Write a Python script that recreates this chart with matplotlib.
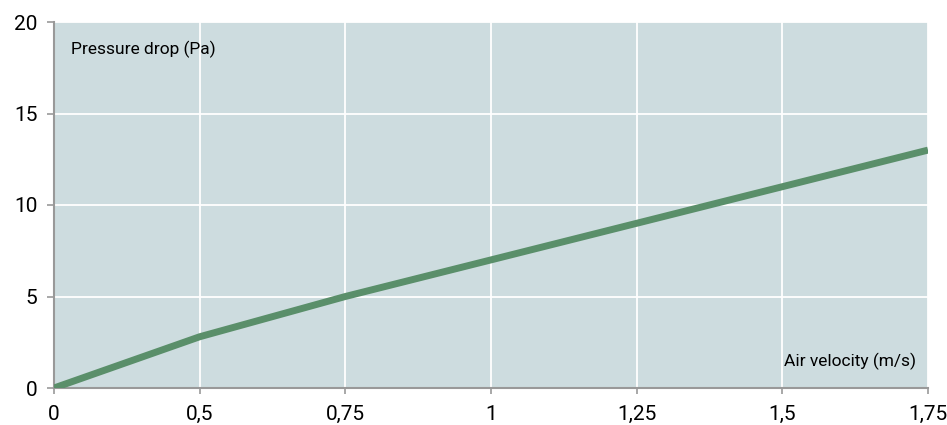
import matplotlib
matplotlib.use("Agg")
import matplotlib.pyplot as plt

plt.rcParams['font.family'] = ['Liberation Sans Narrow', 'Roboto', 'DejaVu Sans']

# data (x axis is categorical: 0.25 is not shown)
velocity_labels = ['0', '0,5', '0,75', '1', '1,25', '1,5', '1,75']
pressure = [0, 2.8, 5.0, 7.0, 9.0, 11.0, 13.0]
y_ticks = [0, 5, 10, 15, 20]

fig = plt.figure(figsize=(9.47, 4.25), dpi=100)
ax = fig.add_axes([54 / 947, 1 - 388 / 425, (928 - 54) / 947, (388 - 22) / 425])

pos = list(range(len(velocity_labels)))
ax.set_facecolor('#cddcdf')
ax.plot(pos, pressure, color='#5a8f6a', lw=5, solid_capstyle='butt', zorder=3)

ax.set_xlim(0, len(velocity_labels) - 1)
ax.set_ylim(0, 20)
ax.set_xticks(pos)
ax.set_xticklabels(velocity_labels)
ax.set_yticks(y_ticks)

ax.grid(True, color='white', lw=1.3, zorder=1)
ax.set_axisbelow(True)

for side in ['top', 'right']:
    ax.spines[side].set_visible(False)
for side in ['left', 'bottom']:
    ax.spines[side].set_color('#999999')
    ax.spines[side].set_linewidth(1.5)

ax.tick_params(axis='both', colors='#999999', labelcolor='black', labelsize=15,
               width=1.2)
ax.tick_params(axis='x', length=4, pad=8.5)
ax.tick_params(axis='y', length=5, pad=7)

ax.text(0.02, 0.925, 'Pressure drop (Pa)', transform=ax.transAxes, fontsize=12.5,
        ha='left', va='center')
ax.text(0.986, 0.072, 'Air velocity (m/s)', transform=ax.transAxes, fontsize=12.5,
        ha='right', va='center')

fig.savefig('out.png', dpi=100)
